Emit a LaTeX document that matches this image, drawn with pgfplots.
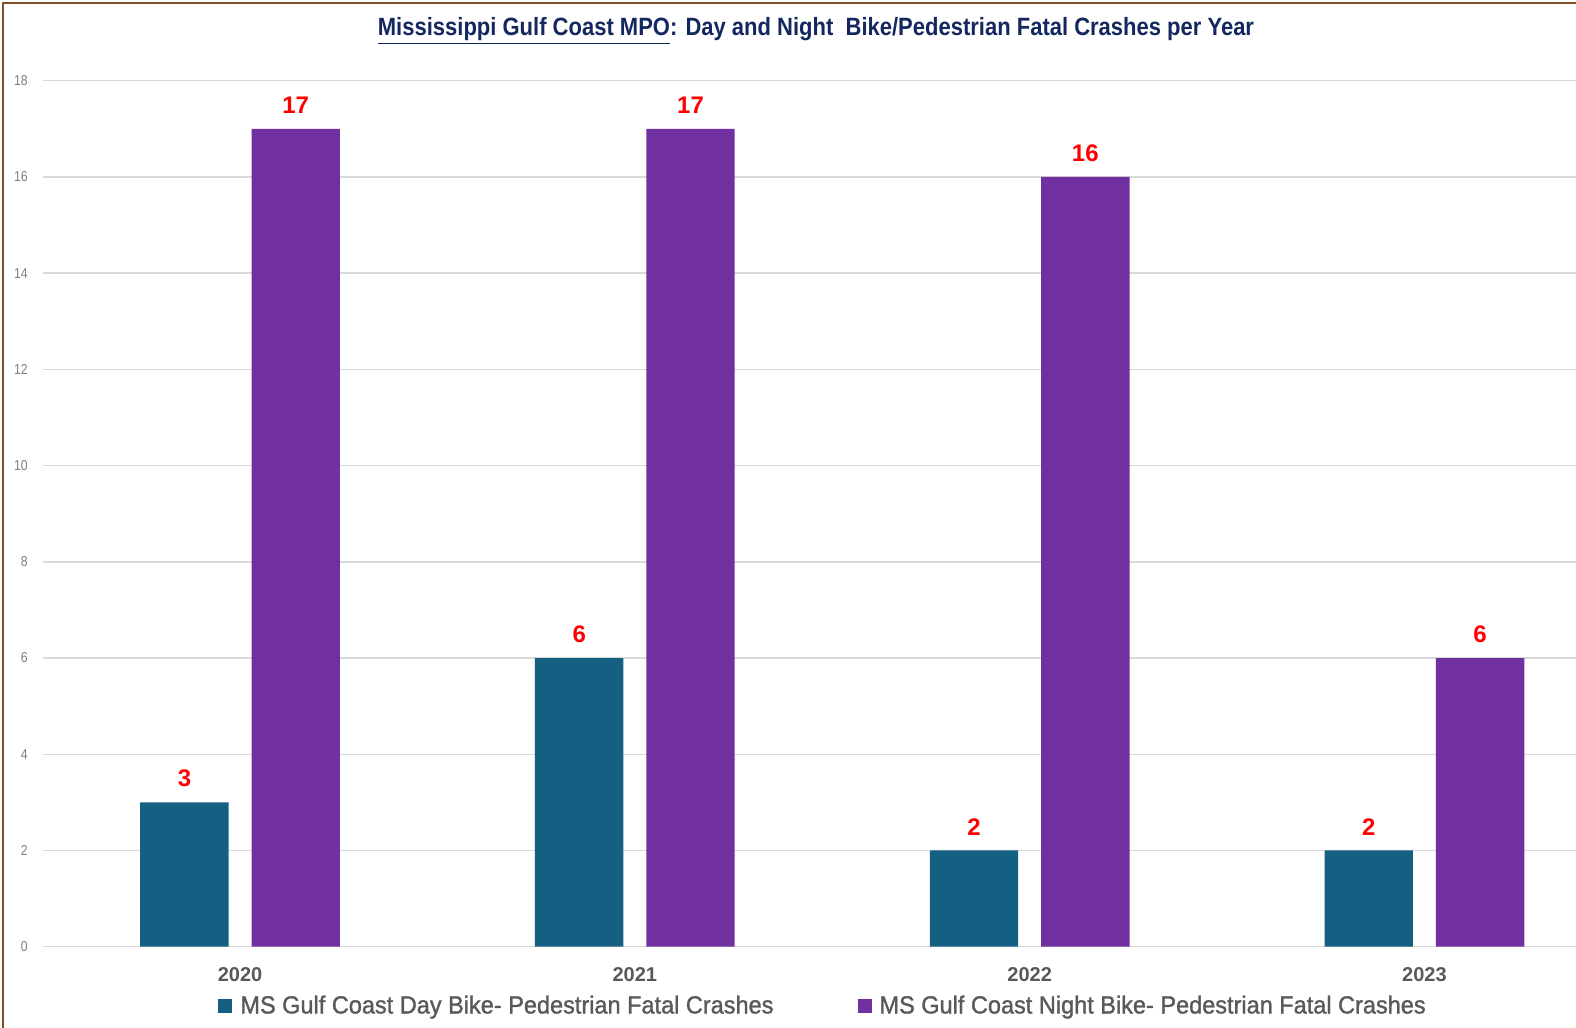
\documentclass[border=0pt]{standalone}
\usepackage{fontspec}
\setmainfont{Liberation Sans}
\newfontfamily\narrowfont{Liberation Sans}[FakeStretch=0.85]
\newfontfamily\titlefont{Liberation Sans Bold}[FakeStretch=0.88]
\newfontfamily\legfont{Liberation Sans}[FakeStretch=0.948, FakeBold=1.2]
\usepackage{pgfplots}
\pgfplotsset{compat=1.18}
\definecolor{dayc}{RGB}{21,96,130}
\definecolor{nightc}{RGB}{112,48,160}
\definecolor{gridc}{RGB}{217,217,217}
\definecolor{titlec}{RGB}{20,40,95}
\definecolor{legc}{RGB}{89,89,89}
\definecolor{tickc}{RGB}{128,128,128}
\definecolor{framec}{RGB}{130,80,40}
\begin{document}
\begin{tikzpicture}[x=1pt,y=1pt]
\useasboundingbox (0,0) rectangle (788,514);
\fill[white] (0,0) rectangle (788,514);
\draw[framec, line width=1pt] (1.5,0) -- (1.5,512.5) -- (788,512.5);
\node[text=titlec, font=\titlefont\fontsize{12.5}{15}\selectfont] at (408,498.5)
  {\underline{Mississippi Gulf Coast MPO}: Day and Night\ \ Bike/Pedestrian Fatal Crashes per Year};
\begin{axis}[
  at={(21.35pt,40.65pt)}, anchor=south west,
  scale only axis, width=766.65pt, height=433pt,
  ymin=0, ymax=18, xmin=-0.5, xmax=3.384,
  ytick={0,2,...,18},
  xtick={0,1,2,3}, xticklabels={2020,2021,2022,2023},
  ymajorgrids, grid style={gridc, line width=0.75pt},
  axis line style={draw=none}, major tick length=0pt,
  /pgf/number format/assume math mode=true,
  yticklabel style={font=\narrowfont\fontsize{7.2}{8}\selectfont, text=tickc, xshift=-4pt},
  xticklabel style={font=\bfseries\fontsize{10}{11}\selectfont, text=legc, yshift=-7pt},
  ybar, bar width=0.224,
  nodes near coords,
  nodes near coords style={font=\bfseries\fontsize{12}{14}\selectfont, text=red, inner sep=0pt, anchor=south, yshift=7.5pt},
  legend columns=2,
  legend style={at={(0.5096,-0.0685)}, anchor=center, draw=none, fill=none,
    font=\legfont\fontsize{12.4}{14}\selectfont, text=legc,
    /tikz/every odd column/.append style={column sep=2pt},
    /tikz/every even column/.append style={column sep=40pt}},
  legend image code/.code={\fill[#1] (0pt,-3.5pt) rectangle (7pt,3.5pt);},
]
\addplot[fill=dayc, draw=none, bar shift=-0.141] coordinates {(0,3) (1,6) (2,2) (3,2)};
\addplot[fill=nightc, draw=none, bar shift=0.141] coordinates {(0,17) (1,17) (2,16) (3,6)};
\legend{MS Gulf Coast Day Bike- Pedestrian Fatal Crashes, MS Gulf Coast Night Bike- Pedestrian Fatal Crashes}
\end{axis}
\end{tikzpicture}
\end{document}
